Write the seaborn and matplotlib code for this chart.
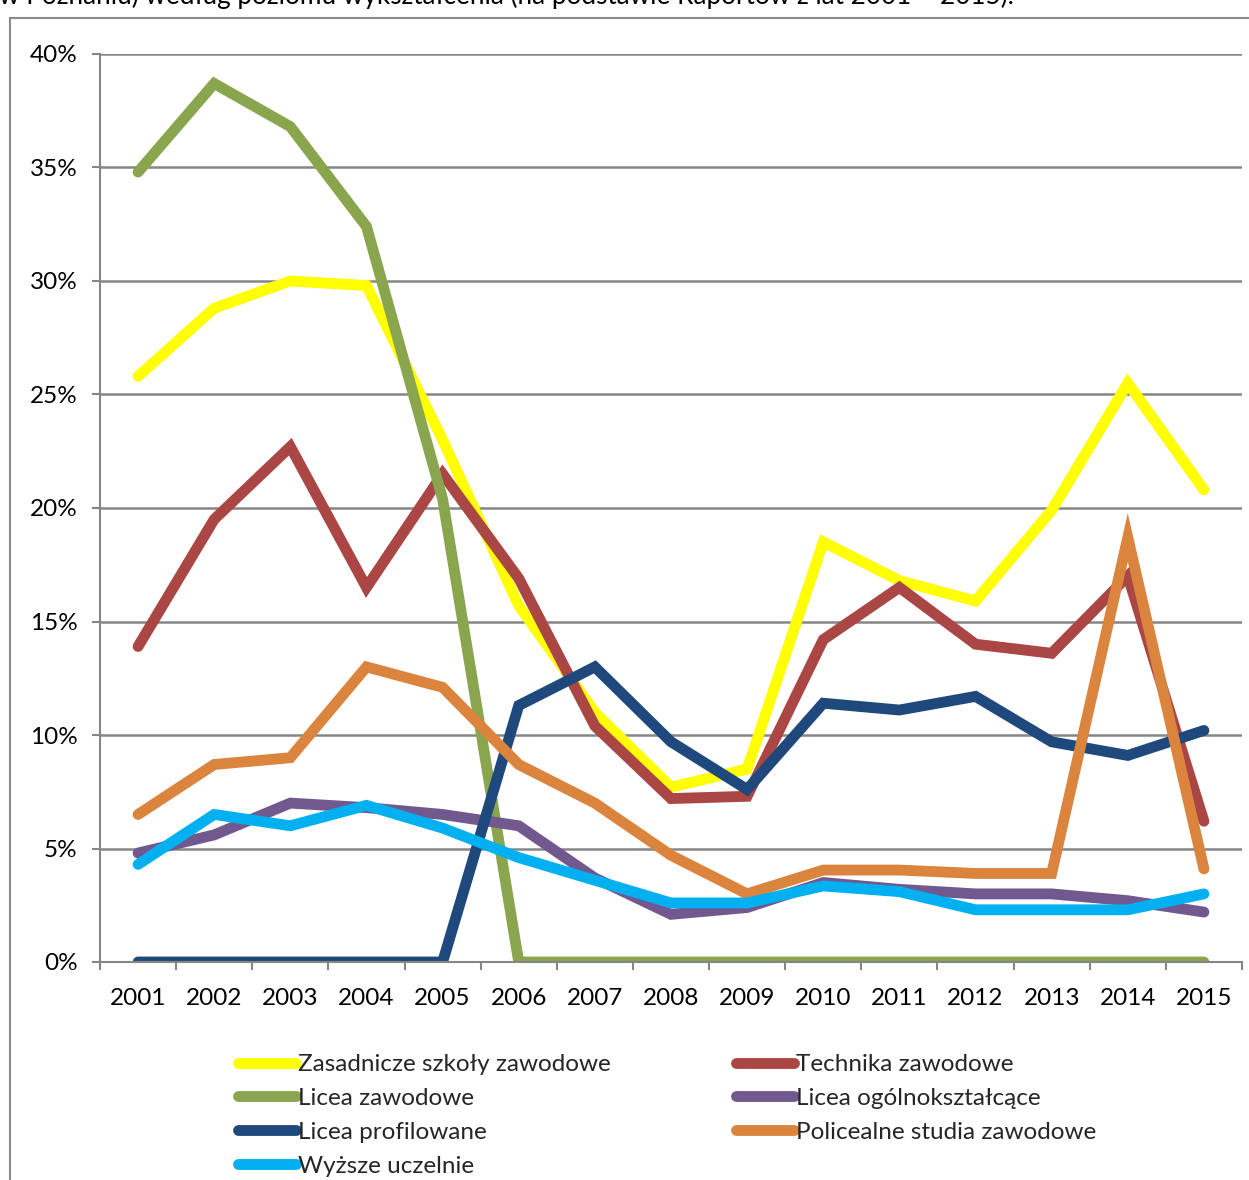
import matplotlib
matplotlib.use("Agg")
import matplotlib.pyplot as plt
import seaborn as sns
import pandas as pd
from matplotlib.patches import Rectangle
from matplotlib.lines import Line2D
from matplotlib.ticker import FuncFormatter, MultipleLocator, FixedLocator

years = list(range(2001, 2016))
year_labels = [str(y) for y in years]

series_names = [
    "Zasadnicze szkoły zawodowe",
    "Technika zawodowe",
    "Licea zawodowe",
    "Licea ogólnokształcące",
    "Licea profilowane",
    "Policealne studia zawodowe",
    "Wyższe uczelnie",
]

zasadnicze = [25.8, 28.8, 30.0, 29.8, 23.0, 15.7, 11.0, 7.7, 8.5, 18.5, 16.8, 15.9, 19.9, 25.5, 20.8]
technika = [13.9, 19.5, 22.7, 16.5, 21.5, 16.9, 10.4, 7.2, 7.3, 14.2, 16.5, 14.0, 13.6, 17.0, 6.2]
licea_zaw = [34.8, 38.7, 36.8, 32.4, 20.4, 0, 0, 0, 0, 0, 0, 0, 0, 0, 0]
licea_ogol = [4.8, 5.6, 7.0, 6.8, 6.5, 6.0, 3.7, 2.1, 2.4, 3.5, 3.2, 3.0, 3.0, 2.7, 2.2]
licea_prof = [0, 0, 0, 0, 0, 11.3, 13.0, 9.7, 7.6, 11.4, 11.1, 11.7, 9.7, 9.1, 10.2]
policealne = [6.5, 8.7, 9.0, 13.0, 12.1, 8.7, 7.0, 4.7, 3.0, 4.05, 4.05, 3.9, 3.9, 18.7, 4.1]
wyzsze = [4.3, 6.5, 6.0, 6.9, 5.9, 4.6, 3.6, 2.6, 2.6, 3.35, 3.1, 2.3, 2.3, 2.3, 3.0]

all_values = [zasadnicze, technika, licea_zaw, licea_ogol, licea_prof, policealne, wyzsze]
colors = ["#FFFF00", "#AA4643", "#89A54E", "#71588F", "#1F497D", "#DB843D", "#00B0F0"]

title_text = "w Poznaniu) według poziomu wykształcenia (na podstawie Raportów z lat 2001 – 2015)."

rows = []
for name, vals in zip(series_names, all_values):
    for y, v in zip(years, vals):
        rows.append({"Rok": y, "Udział": v / 100.0, "Typ": name})
df = pd.DataFrame(rows)

sns.set_theme(style="white")
plt.rcParams["font.family"] = ["Lato", "DejaVu Sans"]

W, H = 1249, 1180
FS = 17.5
LW = 7.8
fig = plt.figure(figsize=(W / 100, H / 100), dpi=100)
fig.patch.set_facecolor("white")

# outer chart frame
fig.patches.append(Rectangle((10 / W, -0.05), 1.2, (H - 18) / H + 0.05,
                             transform=fig.transFigure, fill=False,
                             edgecolor="#8c8c8c", linewidth=1.5, zorder=0))
fig.text(-1 / W, 1 - 4 / H, title_text, fontsize=18.8, va="baseline", ha="left", color="black")

ax = fig.add_axes([100 / W, 218 / H, 1142 / W, (962 - 54) / H])
sns.lineplot(data=df, x="Rok", y="Udział", hue="Typ", hue_order=series_names,
             palette=colors, linewidth=LW, ax=ax, legend=False,
             solid_capstyle="round", solid_joinstyle="miter")

ax.set_xlim(2000.5, 2015.5)
ax.set_ylim(0, 0.40)
ax.yaxis.set_major_locator(MultipleLocator(0.05))
ax.yaxis.set_major_formatter(FuncFormatter(lambda v, p: f"{v*100:.0f}%"))
ax.xaxis.set_major_locator(FixedLocator(years))
ax.set_xticklabels(year_labels)
ax.xaxis.set_minor_locator(FixedLocator([y + 0.5 for y in range(2000, 2016)]))
ax.grid(axis="y", color="#868686", linewidth=1.8)
ax.set_axisbelow(True)
for s in ["top", "right"]:
    ax.spines[s].set_visible(False)
for s in ["left", "bottom"]:
    ax.spines[s].set_color("#868686")
    ax.spines[s].set_linewidth(1.5)
ax.tick_params(axis="y", which="major", left=True, length=6, width=1.5, color="#868686",
               pad=10, labelsize=FS, labelcolor="black")
ax.tick_params(axis="x", which="major", bottom=True, length=0, pad=18.5, labelsize=FS, labelcolor="black")
ax.tick_params(axis="x", which="minor", bottom=True, length=6, width=1.5, color="#868686")
ax.set_xlabel("")
ax.set_ylabel("")

# legend: two columns placed separately
handles = [Line2D([0], [0], color=c, linewidth=LW, solid_capstyle="round") for c in colors]
col1 = [0, 2, 4, 6]
col2 = [1, 3, 5]
common = dict(loc="upper left", frameon=False, fontsize=FS, handlelength=2.4,
              handletextpad=0.05, labelspacing=0.53, borderaxespad=0, borderpad=0)
fig.legend([handles[i] for i in col1], [series_names[i] for i in col1],
           bbox_to_anchor=(238 / W, 1 - 1054 / H), **common)
fig.legend([handles[i] for i in col2], [series_names[i] for i in col2],
           bbox_to_anchor=(736 / W, 1 - 1054 / H), **common)

fig.savefig("out.png", dpi=100, facecolor="white")
